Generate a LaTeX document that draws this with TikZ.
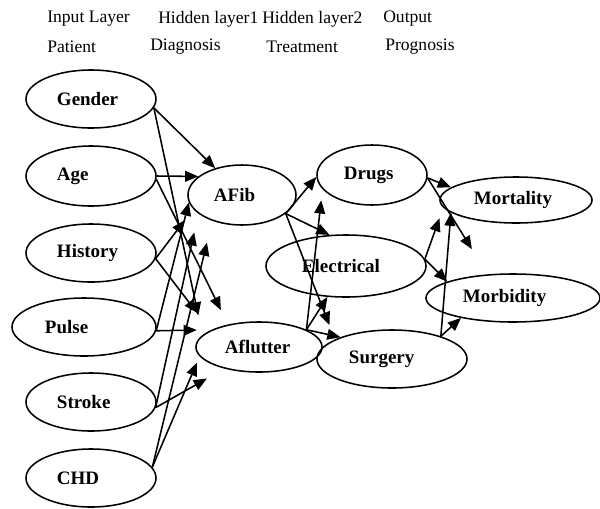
\documentclass[tikz,border=0pt]{standalone}
\usepackage{fontspec}
\setmainfont{Liberation Serif}
\usetikzlibrary{shapes.geometric,arrows.meta}

\begin{document}
\begin{tikzpicture}[x=0.025cm, y=-0.025cm,
  var/.style={ellipse, draw, line width=1.1pt, inner sep=0pt, align=left,
              font=\fontsize{13.5}{16}\selectfont\bfseries},
  inp/.style={var, minimum width=3.25cm, minimum height=1.45cm,
              text width=1.7cm},
  head/.style={anchor=west, inner sep=0pt, font=\fontsize{12.5}{15}\selectfont},
  arrow/.style={-{Triangle[length=0.33cm, width=0.27cm]}, line width=1.1pt}
]
  \useasboundingbox (0,0) rectangle (600,508);

  \node[head] (hin)  at (47,19)  {Input Layer};
  \node[head] (hh1)  at (158,19) {Hidden layer1};
  \node[head] (hh2)  at (262,19) {Hidden layer2};
  \node[head] (hout) at (383,19) {Output};
  \node[head] (pat)  at (47,47)  {Patient};
  \node[head] (diag) at (150,47) {Diagnosis};
  \node[head] (trt)  at (266,47) {Treatment};
  \node[head] (prog) at (385,47) {Prognosis};

  \node[inp] (gender)  at (91,99)  {Gender};
  \node[inp, minimum height=1.5cm] (age) at (91,176) {Age};
  \node[inp] (history) at (91,253) {History};
  \node[inp, minimum width=3.6cm, text width=1.95cm] (pulse) at (84,327) {Pulse};
  \node[inp] (stroke)  at (91,402) {Stroke};
  \node[inp] (chd)     at (91,478) {CHD};

  \node[var, minimum width=2.7cm,  minimum height=1.5cm,  text width=1.4cm]  (afib)       at (242,195) {AFib};
  \node[var, minimum width=3.15cm, minimum height=1.25cm, text width=1.7cm]  (aflutter)   at (259,347) {Aflutter};
  \node[var, minimum width=2.75cm, minimum height=1.5cm,  text width=1.4cm]  (drugs)      at (372,175) {Drugs};
  \node[var, minimum width=4cm,    minimum height=1.55cm, text width=2.2cm]  (electrical) at (346,266) {Electrical};
  \node[var, minimum width=3.75cm, minimum height=1.45cm, text width=2.15cm] (surgery)    at (392,359) {Surgery};
  \node[var, minimum width=3.8cm,  minimum height=1.15cm, text width=2.1cm]  (mortality)  at (516,200) {Mortality};
  \node[var, minimum width=4.35cm, minimum height=1.2cm,  text width=2.5cm]  (morbidity)  at (513,298) {Morbidity};

  \draw[arrow] (gender.-8) -- (afib.135);
  \draw[arrow, shorten >=0.5cm] (gender.-8) -- (aflutter.168);
  \draw[arrow] (age.east) -- (afib.157);
  \draw[arrow, shorten >=0.4cm] (age.-3) -- (aflutter.144);
  \draw[arrow, shorten >=0.35cm] (history.-5) -- (afib.196);
  \draw[arrow, shorten >=0.55cm] (history.-5) -- (aflutter.161);
  \draw[arrow] (pulse.-3) -- (afib.188);
  \draw[arrow, shorten >=0.37cm] (pulse.-3) -- (aflutter.160);
  \draw[arrow, shorten >=0.48cm] (stroke.-5) -- (afib.203);
  \draw[arrow, shorten >=0.5cm] (stroke.-5) -- (aflutter.212);
  \draw[arrow, shorten >=0.56cm] (chd.10) -- (afib.221);
  \draw[arrow, shorten >=0.17cm] (chd.10) -- (aflutter.189);

  \draw[arrow] (afib.-23) -- (drugs.182);
  \draw[arrow] (afib.-23) -- (electrical.118);
  \draw[arrow, shorten >=0.38cm] (afib.-23) -- (surgery.161);
  \draw[arrow, shorten >=0.28cm] (aflutter.20) -- (drugs.196);
  \draw[arrow] (aflutter.20) -- (electrical.239);
  \draw[arrow] (aflutter.20) -- (surgery.157);

  \draw[arrow] (drugs.-3) -- (mortality.169);
  \draw[arrow, shorten >=0.74cm] (drugs.-3) -- (morbidity.137);
  \draw[arrow, shorten >=0.28cm] (electrical.5) -- (mortality.186);
  \draw[arrow] (electrical.5) -- (morbidity.166);
  \draw[arrow] (surgery.25) -- (mortality.191);
  \draw[arrow] (surgery.25) -- (morbidity.201);
\end{tikzpicture}
\end{document}
